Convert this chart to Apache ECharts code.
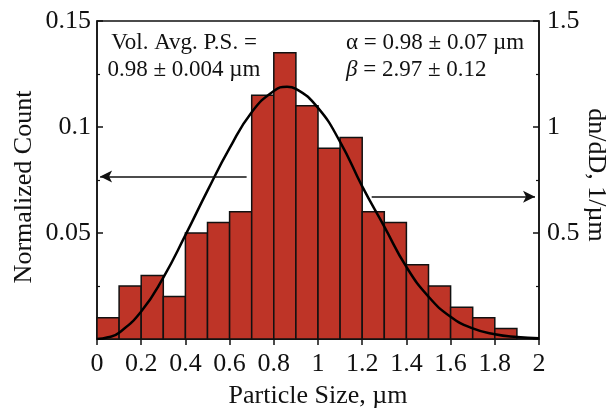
<!DOCTYPE html>
<html>
<head>
<meta charset="utf-8">
<script src="https://cdn.jsdelivr.net/npm/echarts@6/dist/echarts.min.js"></script>
<style>html,body{margin:0;padding:0;background:#fff}#c{width:609px;height:408px}</style>
</head>
<body>
<div id="c"></div>
<script>
// Histogram bins (left edges, µm) and normalized counts
const binLeft = [0,0.1,0.2,0.3,0.4,0.5,0.6,0.7,0.8,0.9,1.0,1.1,1.2,1.3,1.4,1.5,1.6,1.7,1.8];
const binWidth = 0.1;
const counts = [0.010,0.025,0.030,0.020,0.050,0.055,0.060,0.115,0.135,0.110,0.090,0.095,0.060,0.055,0.035,0.025,0.015,0.010,0.005];
// Fitted distribution curve dn/dD (right axis)
const curveX = [0,0.05,0.1,0.2,0.3,0.4,0.5,0.6,0.7,0.8,0.86,0.9,1.0,1.1,1.2,1.3,1.4,1.5,1.6,1.7,1.8,1.9,2.0];
const curveY = [0,0.008,0.03,0.13,0.29,0.49,0.70,0.90,1.07,1.17,1.19,1.18,1.09,0.93,0.72,0.53,0.34,0.20,0.105,0.05,0.022,0.009,0.003];
// Arrows: [x start, x tip, y (right axis units)]
const leftArrow = [0.677, 0.014, 0.766];
const rightArrow = [1.243, 1.982, 0.671];

const FONT = '"Liberation Serif","DejaVu Serif",serif';
const chart = echarts.init(document.getElementById('c'));
const barData = binLeft.map((x, i) => [x, x + binWidth, counts[i]]);
const curveData = curveX.map((x, i) => [x, curveY[i]]);

chart.setOption({
  animation: false,
  grid: { left: 97, right: 70, top: 21, bottom: 69, outerBoundsMode: 'none', containLabel: false,
    show: true, borderColor: '#111', borderWidth: 1.5, backgroundColor: 'transparent' },
  xAxis: {
    type: 'value', min: 0, max: 2, interval: 0.2,
    name: 'Particle Size, µm', nameLocation: 'middle', nameGap: 44, nameMoveOverlap: false,
    nameTextStyle: { fontFamily: FONT, fontSize: 26, color: '#111' },
    axisLine: { show: true, lineStyle: { color: '#111', width: 1.5 } },
    axisTick: { show: true, inside: false, length: 6, lineStyle: { color: '#111', width: 1.5 } },
    axisLabel: { fontFamily: FONT, fontSize: 26, color: '#111', margin: 12,
      formatter: v => String(Math.round(v * 10) / 10) },
    splitLine: { show: false }
  },
  yAxis: [{
    type: 'value', min: 0, max: 0.15, interval: 0.05, position: 'left',
    name: 'Normalized Count', nameLocation: 'middle', nameGap: 60, nameMoveOverlap: false,
    nameTextStyle: { fontFamily: FONT, fontSize: 26, color: '#111', padding: [0, 14, 0, 0] },
    axisLine: { show: true, lineStyle: { color: '#111', width: 1.5 } },
    axisTick: { show: true, inside: true, length: 6, lineStyle: { color: '#111', width: 1.5 } },
    minorTick: { show: true, splitNumber: 2, length: 3, lineStyle: { color: '#111', width: 1.2 } },
    axisLabel: { fontFamily: FONT, fontSize: 26, color: '#111', margin: 6,
      formatter: v => v === 0 ? '' : String(Math.round(v * 100) / 100) },
    splitLine: { show: false }
  }, {
    type: 'value', min: 0, max: 1.5, interval: 0.5, position: 'right',
    name: 'dn/dD, 1/µm', nameLocation: 'middle', nameGap: 44, nameRotate: -90, nameMoveOverlap: false,
    nameTextStyle: { fontFamily: FONT, fontSize: 26, color: '#111', padding: [0, 10, 0, 0] },
    axisLine: { show: true, lineStyle: { color: '#111', width: 1.5 } },
    axisTick: { show: true, inside: true, length: 6, lineStyle: { color: '#111', width: 1.5 } },
    minorTick: { show: true, splitNumber: 2, length: 3, lineStyle: { color: '#111', width: 1.2 } },
    axisLabel: { fontFamily: FONT, fontSize: 26, color: '#111', margin: 8,
      formatter: v => v === 0 ? '' : String(Math.round(v * 10) / 10) },
    splitLine: { show: false }
  }],
  series: [{
    type: 'custom', xAxisIndex: 0, yAxisIndex: 0, silent: true,
    data: barData,
    encode: { x: [0, 1], y: 2 },
    renderItem: function (params, api) {
      const p0 = api.coord([api.value(0), 0]);
      const p1 = api.coord([api.value(1), api.value(2)]);
      return { type: 'rect',
        shape: { x: p0[0], y: p1[1], width: p1[0] - p0[0], height: p0[1] - p1[1] },
        style: { fill: '#be3427', stroke: '#111', lineWidth: 1.5 } };
    }
  }, {
    type: 'line', xAxisIndex: 0, yAxisIndex: 1, silent: true,
    data: curveData, smooth: true, showSymbol: false, symbol: 'none',
    lineStyle: { color: '#000', width: 2.5 },
    markLine: {
      silent: true, symbol: ['none', 'arrow'], symbolSize: [9, 12],
      label: { show: false },
      lineStyle: { color: '#111', width: 1.5, type: 'solid' },
      data: [
        [{ coord: [leftArrow[0], leftArrow[2]] }, { coord: [leftArrow[1], leftArrow[2]] }],
        [{ coord: [rightArrow[0], rightArrow[2]] }, { coord: [rightArrow[1], rightArrow[2]] }]
      ]
    }
  }],
  graphic: [
    { type: 'text', x: 184, y: 43, style: { text: 'Vol. Avg. P.S. =', font: '23px ' + FONT, fill: '#111', align: 'center', verticalAlign: 'middle' } },
    { type: 'text', x: 184, y: 70, style: { text: '0.98 ± 0.004 µm', font: '23px ' + FONT, fill: '#111', align: 'center', verticalAlign: 'middle' } },
    { type: 'text', x: 346, y: 43, style: { text: 'α = 0.98 ± 0.07 µm', font: '23px ' + FONT, fill: '#111', align: 'left', verticalAlign: 'middle' } },
    { type: 'text', x: 346, y: 70, style: {
      text: '{i|β} = 2.97 ± 0.12', font: '23px ' + FONT, fill: '#111', align: 'left', verticalAlign: 'middle',
      rich: { i: { fontStyle: 'italic', fontFamily: FONT, fontSize: 23, fill: '#111' } } } }
  ]
});
</script>
</body>
</html>
